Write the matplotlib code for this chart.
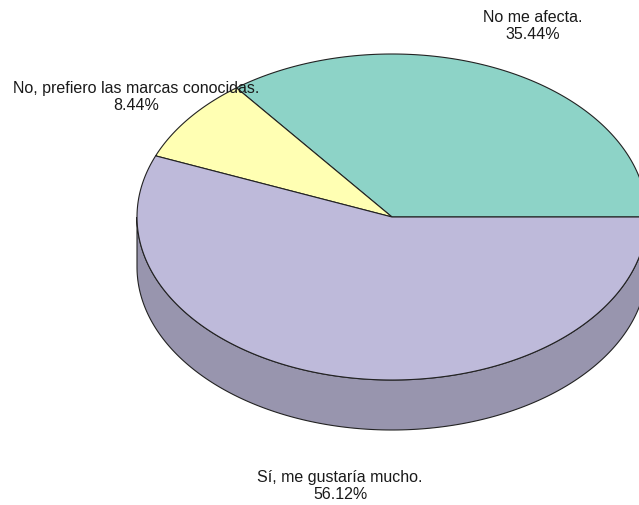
import numpy as np
import matplotlib
matplotlib.use("Agg")
import matplotlib.pyplot as plt
from matplotlib.patches import Polygon

plt.rcParams['font.family'] = ['Liberation Sans', 'DejaVu Sans']

etiquetas = ["No me afecta.", "No, prefiero las marcas conocidas.", "Sí, me gustaría mucho."]
valores = [35.44, 8.44, 56.12]
colores = ["#8dd3c7", "#ffffb3", "#bebada"]

# geometria de la torta (pixeles)
cx, cy = 392, 218
rx, ry = 255, 163
prof = 50

fig = plt.figure(figsize=(6.39, 5.06), dpi=100)
ax = fig.add_axes([0, 0, 1, 1])
ax.set_xlim(0, 639)
ax.set_ylim(506, 0)
ax.axis('off')


def oscurecer(c, f=0.8):
    r, g, b = matplotlib.colors.to_rgb(c)
    return (r * f, g * f, b * f)


angulos = np.concatenate([[0], np.cumsum(valores) / sum(valores) * 360])

# costado (solo la mitad de abajo se ve)
for i in range(len(valores)):
    a0 = max(angulos[i], 180)
    a1 = min(angulos[i + 1], 360)
    if a1 <= a0:
        continue
    t = np.radians(np.linspace(a0, a1, 200))
    xs = cx + rx * np.cos(t)
    ys = cy - ry * np.sin(t)
    pts = np.column_stack([np.concatenate([xs, xs[::-1]]),
                           np.concatenate([ys, ys[::-1] + prof])])
    ax.add_patch(Polygon(pts, closed=True, facecolor=oscurecer(colores[i]),
                         edgecolor="#222222", linewidth=0.8))

# cara de arriba
for i in range(len(valores)):
    t = np.radians(np.linspace(angulos[i], angulos[i + 1], 300))
    xs = cx + rx * np.cos(t)
    ys = cy - ry * np.sin(t)
    pts = np.column_stack([np.concatenate([[cx], xs]), np.concatenate([[cy], ys])])
    ax.add_patch(Polygon(pts, closed=True, facecolor=colores[i],
                         edgecolor="#222222", linewidth=0.8))

# etiquetas
pos_etiquetas = [(533, 26), (136, 97), (340, 486)]
for (x, y), et, v in zip(pos_etiquetas, etiquetas, valores):
    ax.text(x, y, f"{et}\n{v:.2f}%", ha='center', va='center',
            fontsize=11.5, color="#1a1a1a", linespacing=1.15)

fig.savefig("out.png", dpi=100)
